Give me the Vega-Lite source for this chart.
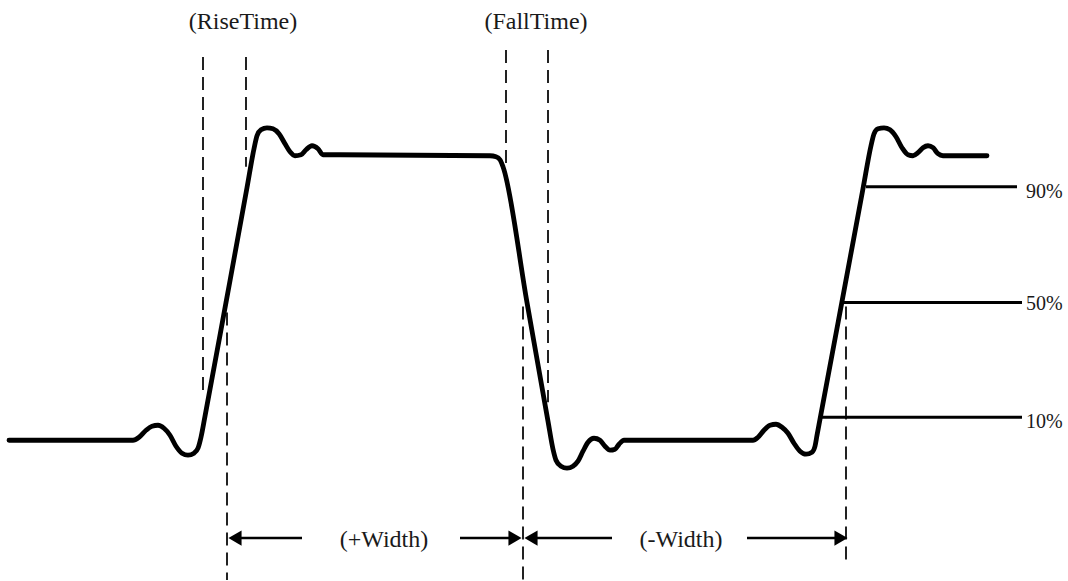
{
  "$schema": "https://vega.github.io/schema/vega-lite/v6.json",
  "width": 1068,
  "height": 581,
  "autosize": {"type": "fit", "contains": "padding"},
  "padding": 0,
  "background": "white",
  "config": {"view": {"stroke": null}},
  "datasets": {
    "wave": [
      {"x": 9, "y": 441}, {"x": 133, "y": 441}, {"x": 139, "y": 438}, {"x": 146, "y": 431}, {"x": 152, "y": 427}, {"x": 158, "y": 426}, {"x": 164, "y": 429}, {"x": 170, "y": 436}, {"x": 176, "y": 447}, {"x": 182, "y": 454}, {"x": 188, "y": 456}, {"x": 194, "y": 454}, {"x": 198, "y": 449}, {"x": 201, "y": 438}, {"x": 205, "y": 417}, {"x": 226, "y": 303}, {"x": 247, "y": 188}, {"x": 254, "y": 149}, {"x": 257, "y": 136}, {"x": 261, "y": 130}, {"x": 267, "y": 128}, {"x": 273, "y": 129}, {"x": 279, "y": 134}, {"x": 285, "y": 144}, {"x": 290, "y": 152}, {"x": 295, "y": 156}, {"x": 301, "y": 155}, {"x": 306, "y": 150}, {"x": 312, "y": 146}, {"x": 318, "y": 149}, {"x": 323, "y": 155}, {"x": 340, "y": 155},
      {"x": 490, "y": 156}, {"x": 496, "y": 157}, {"x": 500, "y": 160}, {"x": 503, "y": 167}, {"x": 527, "y": 303}, {"x": 548, "y": 422}, {"x": 553, "y": 450}, {"x": 556, "y": 461}, {"x": 561, "y": 467}, {"x": 567, "y": 469}, {"x": 573, "y": 467}, {"x": 578, "y": 462}, {"x": 583, "y": 452}, {"x": 588, "y": 443}, {"x": 594, "y": 439}, {"x": 600, "y": 441}, {"x": 605, "y": 447}, {"x": 610, "y": 451}, {"x": 615, "y": 450}, {"x": 619, "y": 445}, {"x": 624, "y": 441}, {"x": 630, "y": 441},
      {"x": 753, "y": 441}, {"x": 758, "y": 438}, {"x": 764, "y": 431}, {"x": 770, "y": 426}, {"x": 776, "y": 425}, {"x": 782, "y": 428}, {"x": 788, "y": 434}, {"x": 794, "y": 444}, {"x": 800, "y": 452}, {"x": 806, "y": 455}, {"x": 812, "y": 453}, {"x": 815, "y": 447}, {"x": 817, "y": 436}, {"x": 820, "y": 420}, {"x": 842, "y": 302}, {"x": 863, "y": 189}, {"x": 871, "y": 146}, {"x": 874, "y": 134}, {"x": 878, "y": 129}, {"x": 884, "y": 128}, {"x": 890, "y": 130}, {"x": 896, "y": 137}, {"x": 902, "y": 148}, {"x": 908, "y": 155}, {"x": 913, "y": 156}, {"x": 918, "y": 153}, {"x": 923, "y": 148}, {"x": 928, "y": 146}, {"x": 933, "y": 148}, {"x": 938, "y": 154}, {"x": 943, "y": 156}, {"x": 987, "y": 156}
    ],
    "levels": [
      {"x1": 866, "x2": 1017, "y": 187, "ly": 192, "label": "90%"},
      {"x1": 843, "x2": 1022, "y": 303, "ly": 305, "label": "50%"},
      {"x1": 820, "x2": 1022, "y": 418, "ly": 423, "label": "10%"}
    ],
    "dashes": [
      {"x": 203, "y1": 57, "y2": 397},
      {"x": 246, "y1": 57, "y2": 167},
      {"x": 227, "y1": 313, "y2": 581},
      {"x": 506, "y1": 50, "y2": 170},
      {"x": 548, "y1": 50, "y2": 403},
      {"x": 523, "y1": 307, "y2": 581},
      {"x": 846, "y1": 307, "y2": 566}
    ],
    "arrows": [
      {"x1": 234, "x2": 302, "y": 539},
      {"x1": 460, "x2": 516, "y": 539},
      {"x1": 530, "x2": 612, "y": 539},
      {"x1": 747, "x2": 842, "y": 539}
    ],
    "heads": [
      {"x": 235, "y": 539, "dir": "left"},
      {"x": 515, "y": 539, "dir": "right"},
      {"x": 531, "y": 539, "dir": "left"},
      {"x": 841, "y": 539, "dir": "right"}
    ],
    "titles": [
      {"x": 243, "y": 22, "text": "(RiseTime)"},
      {"x": 536, "y": 22, "text": "(FallTime)"},
      {"x": 384, "y": 541, "text": "(+Width)"},
      {"x": 681, "y": 541, "text": "(-Width)"}
    ]
  },
  "encoding": {},
  "layer": [
    {
      "data": {"name": "dashes"},
      "mark": {"type": "rule", "color": "#222", "strokeWidth": 2, "strokeDash": [13, 7]},
      "encoding": {
        "x": {"field": "x", "type": "quantitative", "scale": {"domain": [0, 1068], "nice": false, "zero": false}, "axis": null},
        "y": {"field": "y1", "type": "quantitative", "scale": {"domain": [0, 581], "reverse": true, "nice": false, "zero": false}, "axis": null},
        "y2": {"field": "y2"}
      }
    },
    {
      "data": {"name": "wave"},
      "mark": {"type": "line", "color": "black", "strokeWidth": 4.8, "interpolate": "monotone", "strokeCap": "round", "strokeJoin": "round"},
      "encoding": {
        "x": {"field": "x", "type": "quantitative"},
        "y": {"field": "y", "type": "quantitative"}
      }
    },
    {
      "data": {"name": "levels"},
      "mark": {"type": "rule", "color": "black", "strokeWidth": 3},
      "encoding": {
        "x": {"field": "x1", "type": "quantitative"},
        "x2": {"field": "x2"},
        "y": {"field": "y", "type": "quantitative"}
      }
    },
    {
      "data": {"name": "levels"},
      "mark": {"type": "text", "align": "left", "baseline": "middle", "font": "Liberation Serif", "fontSize": 20, "color": "#1a1a1a"},
      "encoding": {
        "x": {"datum": 1026, "type": "quantitative"},
        "y": {"field": "ly", "type": "quantitative"},
        "text": {"field": "label"}
      }
    },
    {
      "data": {"name": "arrows"},
      "mark": {"type": "rule", "color": "black", "strokeWidth": 2.5},
      "encoding": {
        "x": {"field": "x1", "type": "quantitative"},
        "x2": {"field": "x2"},
        "y": {"field": "y", "type": "quantitative"}
      }
    },
    {
      "data": {"name": "heads"},
      "mark": {"type": "point", "filled": true, "color": "black", "opacity": 1, "size": 230},
      "encoding": {
        "x": {"field": "x", "type": "quantitative"},
        "y": {"field": "y", "type": "quantitative"},
        "shape": {"field": "dir", "type": "nominal", "scale": {"domain": ["left", "right"], "range": ["triangle-left", "triangle-right"]}, "legend": null}
      }
    },
    {
      "data": {"name": "titles"},
      "mark": {"type": "text", "align": "center", "baseline": "middle", "font": "Liberation Serif", "fontSize": 24, "color": "#1a1a1a"},
      "encoding": {
        "x": {"field": "x", "type": "quantitative"},
        "y": {"field": "y", "type": "quantitative"},
        "text": {"field": "text"}
      }
    }
  ]
}
